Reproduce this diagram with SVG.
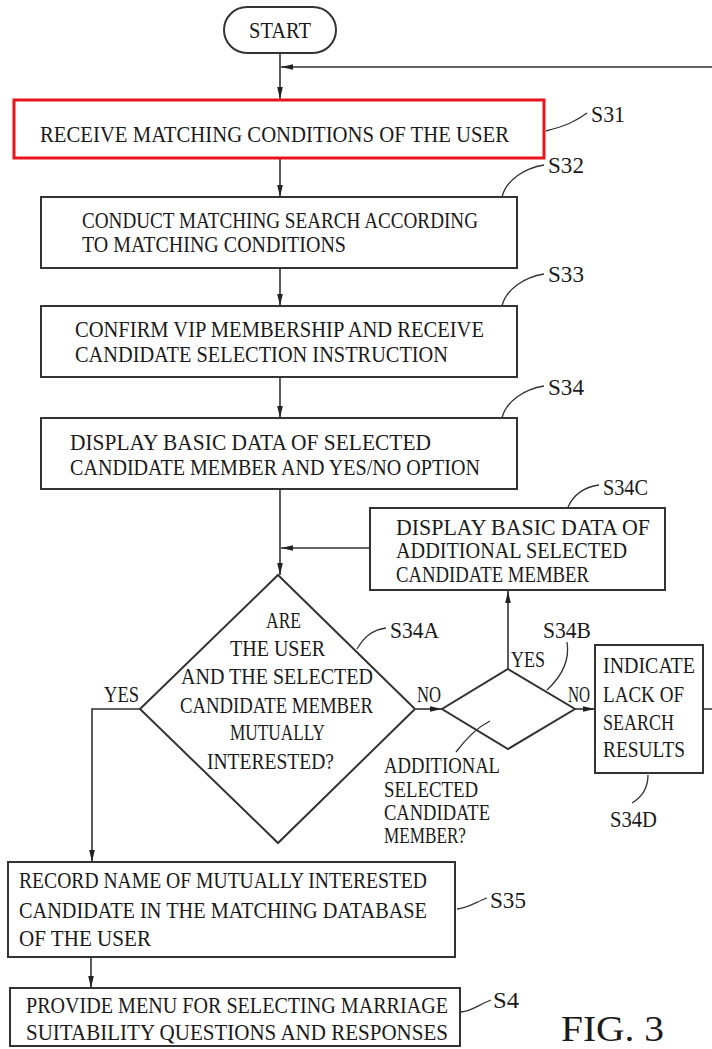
<svg xmlns="http://www.w3.org/2000/svg" width="712" height="1049" viewBox="0 0 712 1049">
<style>
.b{fill:#fff;stroke:#333;stroke-width:2}
.r{fill:#fff;stroke:#e8141c;stroke-width:3}
.t{font-family:"Liberation Serif",serif;font-size:21px;fill:#1a1a1a}
.c{fill:none;stroke:#333;stroke-width:1.6}
.ld{fill:none;stroke:#333;stroke-width:1.3}
</style>
<defs>
<marker id="ah" viewBox="0 0 12 8" refX="12" refY="4" markerWidth="12" markerHeight="8" markerUnits="userSpaceOnUse" orient="auto">
<path d="M0,1.2 L12,4 L0,6.8 z" fill="#222"/>
</marker>
</defs>
<rect width="712" height="1049" fill="#fff"/>

<g id="connectors">
<path class="c" d="M280,53 V99" marker-end="url(#ah)"/>
<path class="c" d="M703,709 H716 V67 H281" marker-end="url(#ah)"/>
<path class="c" d="M280,158 V197" marker-end="url(#ah)"/>
<path class="c" d="M280,268 V306" marker-end="url(#ah)"/>
<path class="c" d="M280,377 V418" marker-end="url(#ah)"/>
<path class="c" d="M280,489 V575" marker-end="url(#ah)"/>
<path class="c" d="M370,548 H281" marker-end="url(#ah)"/>
<path class="c" d="M140,709 H92 V862" marker-end="url(#ah)"/>
<path class="c" d="M416,709 H442" marker-end="url(#ah)"/>
<path class="c" d="M508,669 V591" marker-end="url(#ah)"/>
<path class="c" d="M575,709 H595" marker-end="url(#ah)"/>
<path class="c" d="M91,957 V988" marker-end="url(#ah)"/>
</g>

<g id="start">
<rect class="b" x="224" y="7" width="112" height="46" rx="23"/>
<text class="t" transform="translate(249 38) scale(1 1.1)" textLength="62" lengthAdjust="spacingAndGlyphs">START</text>
</g>

<g id="S31">
<rect class="r" x="14" y="100" width="530" height="58"/>
<text class="t" transform="translate(40 142) scale(1 1.1)" textLength="469" lengthAdjust="spacingAndGlyphs">RECEIVE MATCHING CONDITIONS OF THE USER</text>
<path class="ld" d="M546,131 C565,126 575,122 587,113"/>
<text class="t" transform="translate(591 122) scale(1 1.1)" textLength="34" lengthAdjust="spacingAndGlyphs">S31</text>
</g>

<g id="S32">
<rect class="b" x="41" y="197" width="476" height="71"/>
<text class="t" transform="translate(82 228) scale(1 1.1)" textLength="396" lengthAdjust="spacingAndGlyphs">CONDUCT MATCHING SEARCH ACCORDING</text>
<text class="t" transform="translate(82 252) scale(1 1.1)" textLength="264" lengthAdjust="spacingAndGlyphs">TO MATCHING CONDITIONS</text>
<path class="ld" d="M502,197 C506,180 525,168 544,165"/>
<text class="t" transform="translate(548 173) scale(1 1.1)" textLength="36" lengthAdjust="spacingAndGlyphs">S32</text>
</g>

<g id="S33">
<rect class="b" x="41" y="306" width="476" height="71"/>
<text class="t" transform="translate(75 337) scale(1 1.1)" textLength="409" lengthAdjust="spacingAndGlyphs">CONFIRM VIP MEMBERSHIP AND RECEIVE</text>
<text class="t" transform="translate(75 362) scale(1 1.1)" textLength="373" lengthAdjust="spacingAndGlyphs">CANDIDATE SELECTION INSTRUCTION</text>
<path class="ld" d="M502,306 C506,289 525,277 544,274"/>
<text class="t" transform="translate(548 282) scale(1 1.1)" textLength="36" lengthAdjust="spacingAndGlyphs">S33</text>
</g>

<g id="S34">
<rect class="b" x="41" y="418" width="476" height="71"/>
<text class="t" transform="translate(70 450) scale(1 1.1)" textLength="361" lengthAdjust="spacingAndGlyphs">DISPLAY BASIC DATA OF SELECTED</text>
<text class="t" transform="translate(70 475) scale(1 1.1)" textLength="410" lengthAdjust="spacingAndGlyphs">CANDIDATE MEMBER AND YES/NO OPTION</text>
<path class="ld" d="M502,418 C506,401 525,389 544,386"/>
<text class="t" transform="translate(548 395) scale(1 1.1)" textLength="36" lengthAdjust="spacingAndGlyphs">S34</text>
</g>

<g id="S34C">
<rect class="b" x="370" y="508" width="295" height="82"/>
<text class="t" transform="translate(396 535) scale(1 1.1)" textLength="254" lengthAdjust="spacingAndGlyphs">DISPLAY BASIC DATA OF</text>
<text class="t" transform="translate(396 558) scale(1 1.1)" textLength="231" lengthAdjust="spacingAndGlyphs">ADDITIONAL SELECTED</text>
<text class="t" transform="translate(396 582) scale(1 1.1)" textLength="193" lengthAdjust="spacingAndGlyphs">CANDIDATE MEMBER</text>
<path class="ld" d="M568,507 C574,494 585,487 599,485"/>
<text class="t" transform="translate(603 495) scale(1 1.1)" textLength="45" lengthAdjust="spacingAndGlyphs">S34C</text>
</g>

<g id="S34A">
<polygon class="b" points="278,575 415,709 278,843 140,709"/>
<text class="t" transform="translate(266 628) scale(1 1.1)" textLength="35" lengthAdjust="spacingAndGlyphs">ARE</text>
<text class="t" transform="translate(230 656) scale(1 1.1)" textLength="95" lengthAdjust="spacingAndGlyphs">THE USER</text>
<text class="t" transform="translate(181 684) scale(1 1.1)" textLength="192" lengthAdjust="spacingAndGlyphs">AND THE SELECTED</text>
<text class="t" transform="translate(180 713) scale(1 1.1)" textLength="193" lengthAdjust="spacingAndGlyphs">CANDIDATE MEMBER</text>
<text class="t" transform="translate(230 740) scale(1 1.1)" textLength="95" lengthAdjust="spacingAndGlyphs">MUTUALLY</text>
<text class="t" transform="translate(207 769) scale(1 1.1)" textLength="127" lengthAdjust="spacingAndGlyphs">INTERESTED?</text>
<path class="ld" d="M357,649 C364,637 372,630 386,628"/>
<text class="t" transform="translate(390 638) scale(1 1.1)" textLength="49" lengthAdjust="spacingAndGlyphs">S34A</text>
<text class="t" transform="translate(104 702) scale(1 1.1)" textLength="35" lengthAdjust="spacingAndGlyphs">YES</text>
<text class="t" transform="translate(417 702) scale(1 1.1)" textLength="24" lengthAdjust="spacingAndGlyphs">NO</text>
</g>

<g id="S34B">
<polygon class="b" points="508,669 575,709 508,749 442,709"/>
<text class="t" transform="translate(511 667) scale(1 1.1)" textLength="34" lengthAdjust="spacingAndGlyphs">YES</text>
<text class="t" transform="translate(568 702) scale(1 1.1)" textLength="22" lengthAdjust="spacingAndGlyphs">NO</text>
<path class="ld" d="M547,690 C562,676 570,660 567,642"/>
<text class="t" transform="translate(543 638) scale(1 1.1)" textLength="48" lengthAdjust="spacingAndGlyphs">S34B</text>
<path class="ld" d="M456,752 C465,740 476,728 490,721"/>
<text class="t" transform="translate(384 773) scale(1 1.1)" textLength="116" lengthAdjust="spacingAndGlyphs">ADDITIONAL</text>
<text class="t" transform="translate(384 797) scale(1 1.1)" textLength="94" lengthAdjust="spacingAndGlyphs">SELECTED</text>
<text class="t" transform="translate(384 820) scale(1 1.1)" textLength="106" lengthAdjust="spacingAndGlyphs">CANDIDATE</text>
<text class="t" transform="translate(384 843) scale(1 1.1)" textLength="82" lengthAdjust="spacingAndGlyphs">MEMBER?</text>
</g>

<g id="S34D">
<rect class="b" x="595" y="645" width="108" height="128"/>
<text class="t" transform="translate(603 673) scale(1 1.1)" textLength="92" lengthAdjust="spacingAndGlyphs">INDICATE</text>
<text class="t" transform="translate(603 702) scale(1 1.1)" textLength="81" lengthAdjust="spacingAndGlyphs">LACK OF</text>
<text class="t" transform="translate(603 730) scale(1 1.1)" textLength="71" lengthAdjust="spacingAndGlyphs">SEARCH</text>
<text class="t" transform="translate(603 757) scale(1 1.1)" textLength="82" lengthAdjust="spacingAndGlyphs">RESULTS</text>
<path class="ld" d="M648,775 C648,788 642,797 632,803"/>
<text class="t" transform="translate(610 827) scale(1 1.1)" textLength="47" lengthAdjust="spacingAndGlyphs">S34D</text>
</g>

<g id="S35">
<rect class="b" x="8" y="862" width="447" height="95"/>
<text class="t" transform="translate(19 888) scale(1 1.1)" textLength="408" lengthAdjust="spacingAndGlyphs">RECORD NAME OF MUTUALLY INTERESTED</text>
<text class="t" transform="translate(19 918) scale(1 1.1)" textLength="408" lengthAdjust="spacingAndGlyphs">CANDIDATE IN THE MATCHING DATABASE</text>
<text class="t" transform="translate(19 946) scale(1 1.1)" textLength="132" lengthAdjust="spacingAndGlyphs">OF THE USER</text>
<path class="ld" d="M457,909 C468,908 476,902 487,898"/>
<text class="t" transform="translate(490 908) scale(1 1.1)" textLength="36" lengthAdjust="spacingAndGlyphs">S35</text>
</g>

<g id="S4">
<rect class="b" x="10" y="988" width="450" height="58"/>
<text class="t" transform="translate(26 1013) scale(1 1.1)" textLength="422" lengthAdjust="spacingAndGlyphs">PROVIDE MENU FOR SELECTING MARRIAGE</text>
<text class="t" transform="translate(26 1040) scale(1 1.1)" textLength="422" lengthAdjust="spacingAndGlyphs">SUITABILITY QUESTIONS AND RESPONSES</text>
<path class="ld" d="M461,1012 C472,1011 480,1004 491,1000"/>
<text class="t" transform="translate(493 1008) scale(1 1.1)" textLength="26" lengthAdjust="spacingAndGlyphs">S4</text>
</g>

<text id="fig" class="t" x="561" y="1041" style="font-size:36px" textLength="103" lengthAdjust="spacingAndGlyphs">FIG. 3</text>
</svg>
